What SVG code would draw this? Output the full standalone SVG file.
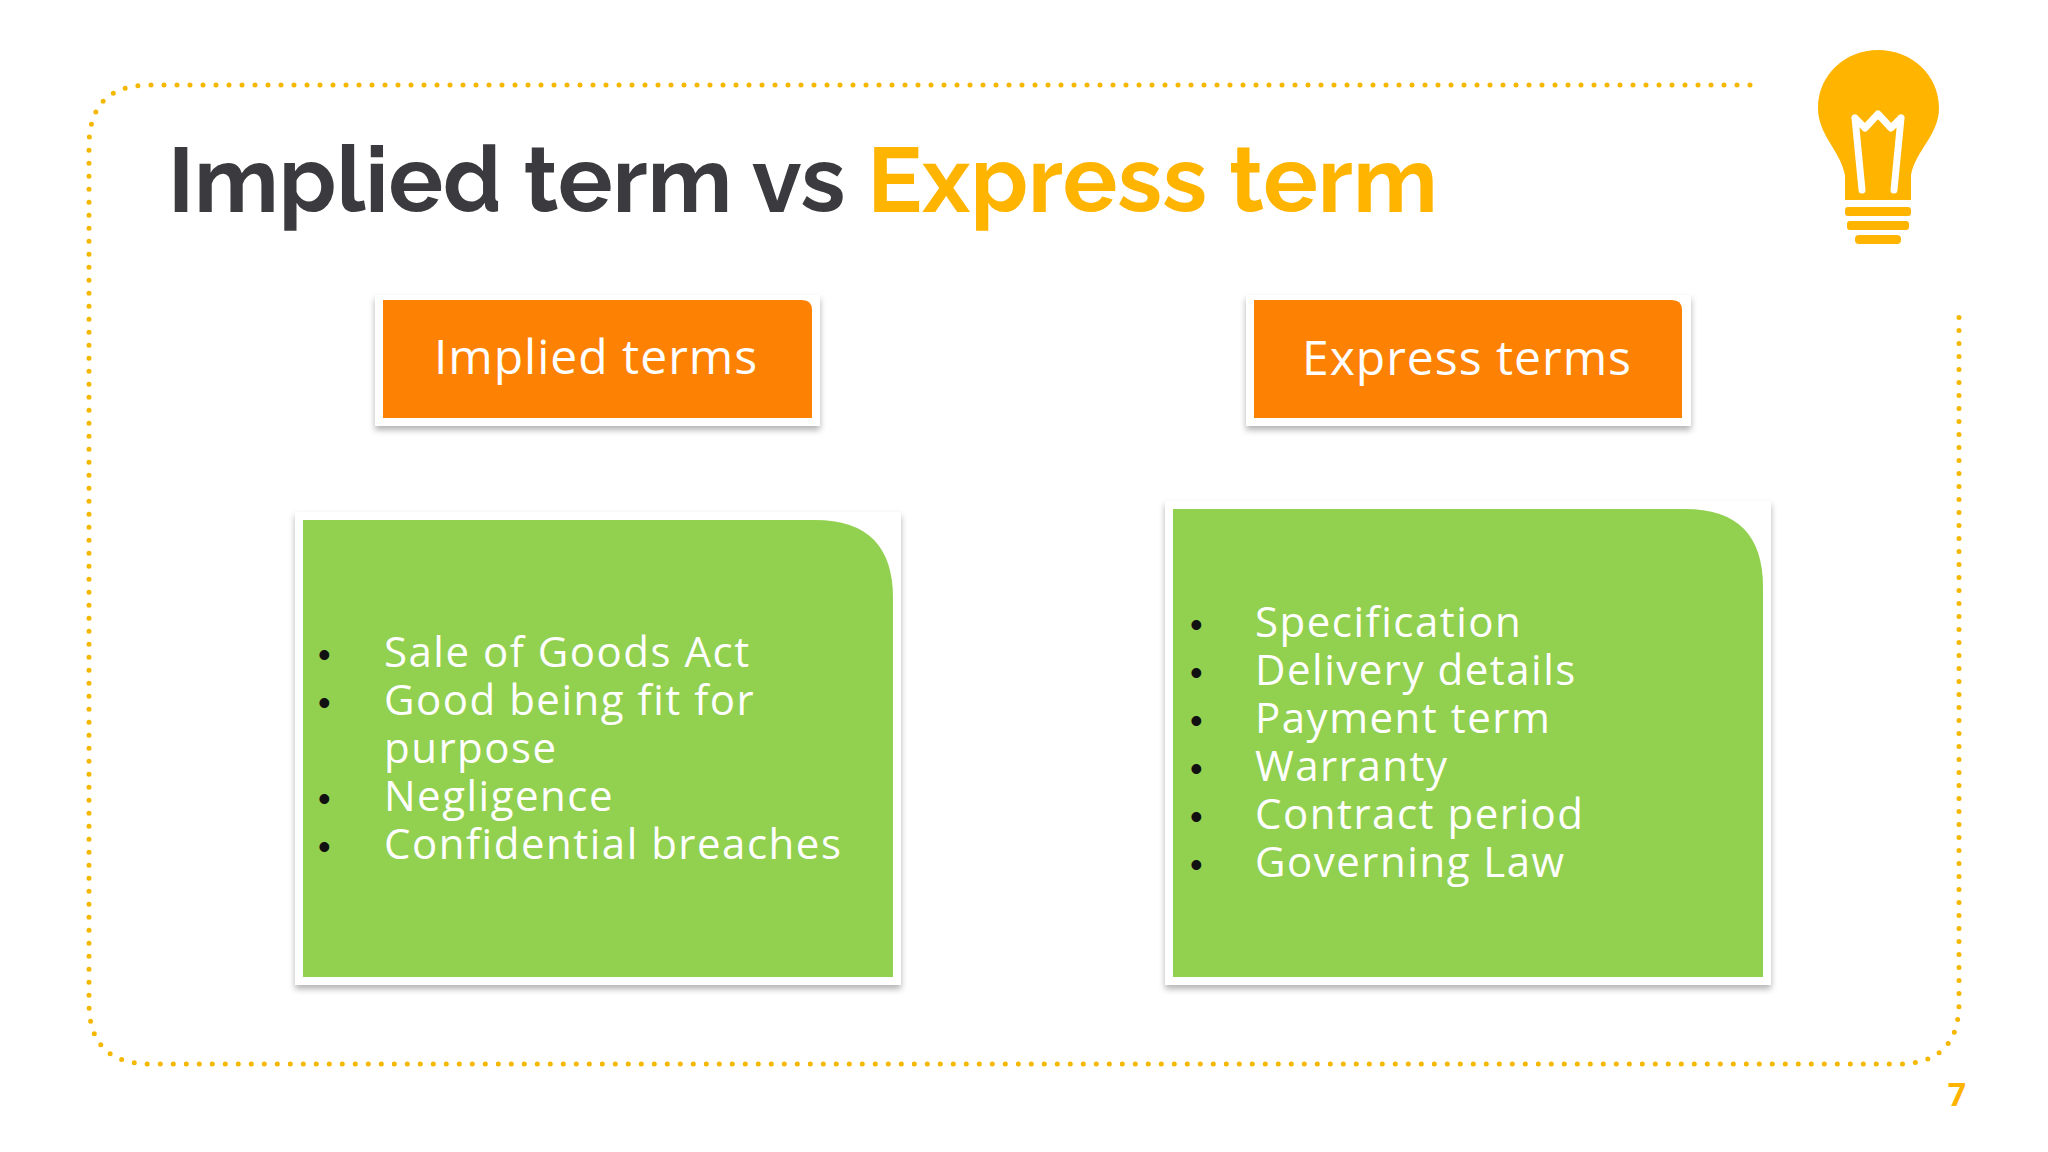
<svg xmlns="http://www.w3.org/2000/svg" width="2048" height="1152" viewBox="0 0 2048 1152">
<defs>
<filter id="sh" x="-10%" y="-10%" width="120%" height="130%"><feDropShadow dx="0" dy="4" stdDeviation="3" flood-color="#000" flood-opacity="0.3"/></filter>
<style>
.hd{font-family:"Open Sans","Liberation Sans",sans-serif;font-size:48px;fill:#fff;text-anchor:middle;letter-spacing:1px}
.bl{font-family:"Open Sans","Liberation Sans",sans-serif;font-size:42px;fill:#fff;letter-spacing:1.5px}
.dot{font-family:"Liberation Sans",sans-serif;font-size:36px;fill:#111}
.or{fill:#fd8204}
.gr{fill:#92d050}
.fr{fill:#fff;filter:url(#sh)}
</style>
</defs>
<rect width="2048" height="1152" fill="#fff"/>
<path d="M1750 85 L150 85 Q89 85 89 146 L89 1003 Q89 1064 150 1064 L1898 1064 Q1959 1064 1959 1003 L1959 313" fill="none" stroke="#f5b800" stroke-width="5" stroke-linecap="round" stroke-dasharray="0 13"/>
<text x="168" y="212" font-family="Raleway,'Inter','Liberation Sans',sans-serif" font-weight="700" font-size="91" fill="#3b3b3f">Implied term vs <tspan fill="#ffb400">Express term</tspan></text>
<g id="bulb" fill="#ffb400">
<path d="M1878 50 C1845 50 1818 75 1818 108 C1818 135 1840 150 1845 175 L1845 200 L1911 200 L1911 175 C1916 150 1939 135 1939 108 C1939 75 1912 50 1878 50 Z"/>
<rect x="1845" y="207" width="66" height="9" rx="3"/>
<rect x="1847" y="221" width="62" height="9" rx="3"/>
<rect x="1855" y="235" width="46" height="9" rx="4"/>
<path d="M1855 118 L1862 190 M1901 118 L1894 190 M1855 118 L1865 128 L1878 114 L1891 128 L1901 118" fill="none" stroke="#fff" stroke-width="7" stroke-linejoin="round" stroke-linecap="round"/>
</g>
<g id="n1"><rect class="fr" x="375" y="295" width="445" height="131"/><path class="or" d="M383 300 H802 Q812 300 812 310 V418 H383 Z"/><text class="hd" x="596" y="374">Implied terms</text></g>
<g id="n2"><rect class="fr" x="1246" y="295" width="445" height="131"/><path class="or" d="M1254 300 H1672 Q1682 300 1682 310 V418 H1254 Z"/><text class="hd" x="1467" y="375">Express terms</text></g>
<g id="n3"><rect class="fr" x="295" y="512" width="606" height="473"/><path class="gr" d="M303 520 H815 Q893 520 893 598 V977 H303 Z"/>
<g class="dot"><text x="318" y="667">•</text><text x="318" y="715">•</text><text x="318" y="811">•</text><text x="318" y="859">•</text></g>
<g class="bl"><text x="384" y="667">Sale of Goods Act</text><text x="384" y="715">Good being fit for</text><text x="384" y="763">purpose</text><text x="384" y="811">Negligence</text><text x="384" y="859">Confidential breaches</text></g></g>
<g id="n4"><rect class="fr" x="1165" y="501" width="606" height="484"/><path class="gr" d="M1173 509 H1685 Q1763 509 1763 587 V977 H1173 Z"/>
<g class="dot"><text x="1190" y="637">•</text><text x="1190" y="685">•</text><text x="1190" y="733">•</text><text x="1190" y="781">•</text><text x="1190" y="829">•</text><text x="1190" y="877">•</text></g>
<g class="bl"><text x="1255" y="637">Specification</text><text x="1255" y="685">Delivery details</text><text x="1255" y="733">Payment term</text><text x="1255" y="781">Warranty</text><text x="1255" y="829">Contract period</text><text x="1255" y="877">Governing Law</text></g></g>
<g id="connectors"/>
<text x="1957" y="1106" text-anchor="middle" font-family="'Open Sans','Liberation Sans',sans-serif" font-weight="700" font-size="32" fill="#ffb400">7</text>
</svg>
